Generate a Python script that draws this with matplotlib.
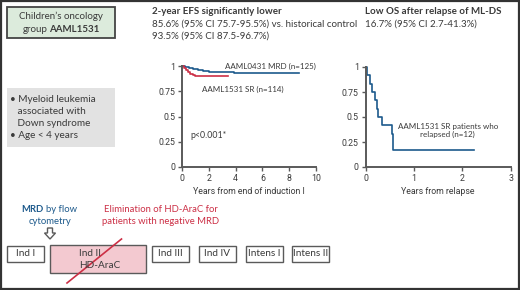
import matplotlib
matplotlib.use("Agg")
import matplotlib.pyplot as plt
import matplotlib.patches as patches
import matplotlib.lines as lines

# -----------------------------------------------------------------------------
# Data.
# -----------------------------------------------------------------------------

efs0431Years = [0, 0.2, 0.5, 0.8, 1.2, 1.6, 2.0, 3.9, 8.7]
efs0431 = [1, 0.995, 0.985, 0.975, 0.965, 0.955, 0.945, 0.935, 0.935]

efs1531Years = [0, 0.15, 0.3, 0.45, 0.6, 0.8, 1.0, 1.5, 3.4]
efs1531 = [1, 0.98, 0.96, 0.94, 0.92, 0.91, 0.905, 0.9, 0.9]

osYears = [0, 0.034, 0.09, 0.138, 0.193, 0.228, 0.262, 0.345, 0.538, 0.56, 0.572, 2.24]
osSurv = [1, 0.917, 0.833, 0.75, 0.667, 0.583, 0.5, 0.417, 0.333, 0.25, 0.167, 0.167]

yTicks = [0, 0.25, 0.5, 0.75, 1]
yTickLabels = ["0", "0.25", "0.5", "0.75", "1"]
xTicksLeft = [0, 2, 4, 6, 8, 10]
xTicksRight = [0, 1, 2, 3]

courses = ["Ind I", "Ind III", "Ind IV", "Intens I", "Intens II"]

# -----------------------------------------------------------------------------
# Style.
# -----------------------------------------------------------------------------

W, H = 520, 290
BLUE = "#1d5a8c"
RED = "#cc2f45"
GRAY = "#5a5a5a"
TEXT = "#3a3a3a"

MAIN = ["Lato", "DejaVu Sans"]
NARROW = ["Roboto", "DejaVu Sans"]
plt.rcParams["font.family"] = MAIN

fig = plt.figure(figsize=(W / 100, H / 100), dpi=100)


def fx(px):
    return px / W


def fy(py):
    return 1 - py / H


def text(px, py, s, **kw):
    kw.setdefault("fontsize", 7)
    kw.setdefault("color", TEXT)
    kw.setdefault("va", "center")
    fig.text(fx(px), fy(py), s, **kw)


def box(x0, y0, x1, y1, **kw):
    fig.patches.append(patches.Rectangle(
        (fx(x0), fy(y1)), fx(x1 - x0), (y1 - y0) / H,
        transform=fig.transFigure, **kw))


# outer frame
box(1, 1, 519, 289, facecolor="none", edgecolor="#333333", linewidth=1.6)

# top-left boxes
box(7, 7, 115, 38, facecolor="#dcebdc", edgecolor="#444444", linewidth=1.3)
text(61, 16, "Children\u2019s oncology", ha="center")
text(47.5, 29, "group", ha="right")
text(49.5, 29, "AAML1531", ha="left", fontweight="bold")

box(7, 88, 115, 147, facecolor="#e2e2e2", edgecolor="none")
for py, s in [(100, "\u2022 Myeloid leukemia"), (112, "   associated with"),
              (124, "   Down syndrome"), (136, "\u2022 Age < 4 years")]:
    text(10, py, s, fontsize=7.2)

# headings
text(152, 12, "2-year EFS significantly lower", fontweight="bold")
text(152, 24, "85.6% (95% CI 75.7-95.5%) vs. historical control")
text(152, 36, "93.5% (95% CI 87.5-96.7%)")
text(365, 12, "Low OS after relapse of ML-DS", fontweight="bold")
text(365, 24, "16.7% (95% CI 2.7-41.3%)")

# -----------------------------------------------------------------------------
# Kaplan-Meier panels.
# -----------------------------------------------------------------------------


def styleAxis(ax, xmax, xticks, xlabel):
    ax.set_xlim(0, xmax)
    ax.set_ylim(0, 1)
    ax.set_xticks(xticks)
    ax.set_xticklabels([str(t) for t in xticks], family=NARROW, fontsize=6.3, color=TEXT)
    ax.set_yticks(yTicks)
    ax.set_yticklabels(yTickLabels, family=NARROW, fontsize=6.3, color=TEXT)
    ax.set_xlabel(xlabel, family=NARROW, fontsize=6.3, color=TEXT, labelpad=3)
    for side in ["top", "right"]:
        ax.spines[side].set_visible(False)
    for side in ["left", "bottom"]:
        ax.spines[side].set_color(GRAY)
        ax.spines[side].set_linewidth(1.4)
    ax.tick_params(length=3, width=1, color=GRAY, pad=2)
    ax.patch.set_visible(False)


axL = fig.add_axes([fx(182), fy(167), fx(316) - fx(182), (167 - 66) / H])
axL.step(efs0431Years, efs0431, where="post", color=BLUE, linewidth=1.2, clip_on=False)
axL.step(efs1531Years, efs1531, where="post", color=RED, linewidth=1.2, clip_on=False)
styleAxis(axL, 10, xTicksLeft, "Years from end of induction I")
axL.text(3.2, 1.0, "AAML0431 MRD (n=125)", fontsize=5.8, color=TEXT, va="center")
axL.text(1.5, 0.765, "AAML1531 SR (n=114)", fontsize=5.8, color=TEXT, va="center")
axL.text(0.65, 0.31, "p<0.001*", fontsize=6.3, color=TEXT, va="center")

axR = fig.add_axes([fx(365.7), fy(167), fx(510.7) - fx(365.7), (167 - 67) / H])
axR.step(osYears, osSurv, where="post", color=BLUE, linewidth=1.2, clip_on=False)
styleAxis(axR, 3, xTicksRight, "Years from relapse")
axR.text(1.7, 0.365, "AAML1531 SR patients who\nrelapsed (n=12)", fontsize=5.8,
         color=TEXT, ha="center", va="center", linespacing=1.3)

# -----------------------------------------------------------------------------
# Treatment schema.
# -----------------------------------------------------------------------------

text(44, 209, "MRD", ha="right", color=BLUE, fontsize=6.8, fontweight="bold")
text(46, 209, "by flow", ha="left", color=BLUE, fontsize=6.8)
text(50, 222, "cytometry", ha="center", color=BLUE, fontsize=6.8)
fig.patches.append(patches.FancyArrow(
    fx(50), fy(228), 0, -(11 / H), width=fx(5), head_width=fx(11), head_length=6 / H,
    length_includes_head=True, transform=fig.transFigure,
    facecolor="white", edgecolor=GRAY, linewidth=1))

text(161, 209, "Elimination of HD-AraC for", ha="center", color=RED, fontsize=6.8)
text(161, 222, "patients with negative MRD", ha="center", color=RED, fontsize=6.8)

# Ind II box with HD-AraC crossed out
box(50, 245, 145.5, 273, facecolor="#f3c9d0", edgecolor=GRAY, linewidth=1)
text(79, 253, "Ind II", fontsize=7.2)
text(79, 265, "HD-AraC", fontsize=7.2)
fig.lines.append(lines.Line2D([fx(67), fx(121.5)], [fy(283), fy(239)],
                              transform=fig.transFigure, color=RED, linewidth=1.2))

courseX = [(7, 44), (152, 189), (198.5, 236), (245.5, 282.5), (292, 328.5)]
for (x0, x1), label in zip(courseX, courses):
    box(x0, 245.5, x1, 262, facecolor="white", edgecolor=GRAY, linewidth=1)
    text((x0 + x1) / 2, 253.5, label, ha="center", fontsize=7.2)

plt.savefig("out.png", dpi=100)
